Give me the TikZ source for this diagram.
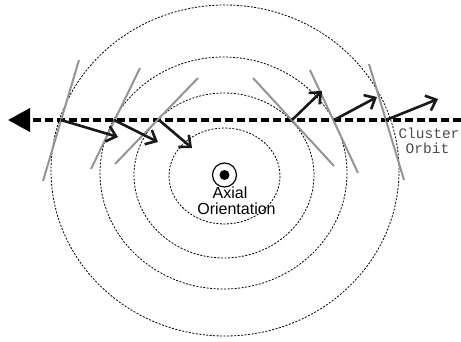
\documentclass[tikz,border=0pt]{standalone}
\usepackage{fontspec}
\setmainfont{Liberation Sans}
\newfontfamily\monof{Liberation Mono}
\usetikzlibrary{arrows.meta}
\begin{document}
\begin{tikzpicture}[x=1pt,y=-1pt,
  orbitring/.style={draw=black,line width=0.8pt,dash pattern=on 2pt off 1.5pt},
  tangent/.style={draw=black!42,line width=2pt},
  velarrow/.style={draw=black!90,line width=2.6pt,-{Straight Barb[length=9pt,width=16pt,line width=2.6pt]}},
  orbitline/.style={draw=black,line width=4pt,dash pattern=on 8pt off 4pt,-{Triangle[length=22pt,width=23pt]}},
  axtext/.style={font=\fontsize{16}{16}\selectfont,inner sep=0pt,anchor=base},
  cltext/.style={font=\monof\fontsize{14.5}{15}\selectfont,text=black!70,inner sep=0pt,anchor=base}
]
\useasboundingbox (0,0) rectangle (461,341);
% rings
\draw[orbitring] (224.5,176) ellipse [x radius=55.5,y radius=48];
\draw[orbitring] (224,175.5) ellipse [x radius=90,y radius=82.5];
\draw[orbitring] (223.5,173) ellipse [x radius=123.5,y radius=116];
\draw[orbitring] (225,170.5) ellipse [x radius=174,y radius=165.5];
% orbit line
\coordinate (oR) at (461,120);
\coordinate (oL) at (8,120);
\draw[orbitline] (oR) -- (oL);
% tangent lines
\draw[tangent] (79,60) -- (43,181);
\draw[tangent] (140,68) -- (91,169);
\draw[tangent] (198,78) -- (115,164);
\draw[tangent] (253,78) -- (334,166);
\draw[tangent] (310,70) -- (358,173);
\draw[tangent] (369,64) -- (404,180);
% arrow start points on orbit
\coordinate (p1) at (61,120);
\coordinate (p2) at (114,120);
\coordinate (p3) at (159,120);
\coordinate (p4) at (292,120);
\coordinate (p5) at (334,120);
\coordinate (p6) at (386,120);
\coordinate (e1) at (118,137);
\coordinate (e2) at (158,142);
\coordinate (e3) at (192,148);
\coordinate (e4) at (322,91);
\coordinate (e5) at (377,97);
\coordinate (e6) at (438,99);
\foreach \i in {1,...,6} \draw[velarrow] (p\i) -- (e\i);
% axis symbol
\node[circle,draw,line width=1.2pt,minimum size=24pt,inner sep=0pt] (ax) at (224.5,175) {};
\node[circle,fill=black,minimum size=10pt,inner sep=0pt] (axdot) at (ax.center) {};
\node[axtext] (axlab1) at (230,198.5) {Axial};
\node[axtext] (axlab2) at (236.5,214.5) {Orientation};
\node[cltext] (cl1) at (429,138.3) {Cluster};
\node[cltext] (cl2) at (427.5,153.3) {Orbit};
\end{tikzpicture}
\end{document}
